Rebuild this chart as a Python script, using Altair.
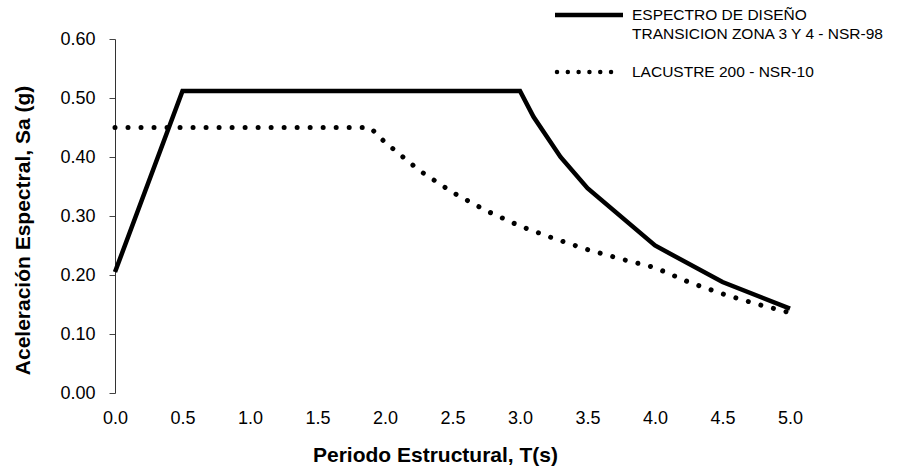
import altair as alt
import pandas as pd

# NSR-98 design spectrum (solid)
t_98 = [0.0, 0.5, 3.0, 3.1, 3.3, 3.5, 4.0, 4.5, 5.0]
sa_98 = [0.205, 0.512, 0.512, 0.468, 0.400, 0.347, 0.250, 0.188, 0.143]

# Lacustre 200 - NSR-10 (dotted)
t_10 = [0.0, 0.5, 1.0, 1.5, 1.89, 2.0, 2.25, 2.5, 2.75, 3.0, 3.25, 3.5, 3.75, 4.0, 4.25, 4.5, 4.75, 5.0]
sa_10 = [0.45, 0.45, 0.45, 0.45, 0.45, 0.425, 0.378, 0.340, 0.309, 0.283, 0.262, 0.243, 0.227, 0.2125, 0.188, 0.168, 0.151, 0.136]

legend_line1 = ["ESPECTRO DE DISEÑO", "TRANSICION ZONA 3 Y 4 - NSR-98"]
legend_line2 = ["LACUSTRE 200 - NSR-10"]

x_ticks = [0.0, 0.5, 1.0, 1.5, 2.0, 2.5, 3.0, 3.5, 4.0, 4.5, 5.0]
y_ticks = [0.0, 0.1, 0.2, 0.3, 0.4, 0.5, 0.6]

FONT = "Liberation Sans"

df98 = pd.DataFrame({"T": t_98, "Sa": sa_98})
df10 = pd.DataFrame({"T": t_10, "Sa": sa_10})

x_enc = alt.X("T:Q", scale=alt.Scale(domain=[0, 5], nice=False),
              axis=alt.Axis(values=x_ticks, format=".1f", title="Periodo Estructural, T(s)",
                            grid=False, domain=False, ticks=False, tickSize=0, labelFlush=False,
                            labelFontSize=18, labelPadding=16, labelColor="black",
                            labelFont=FONT, titleFont=FONT, titleFontSize=21,
                            titleFontWeight="bold", titleColor="black",
                            titleX=320, titleY=62, titleBaseline="middle"))
y_enc = alt.Y("Sa:Q", scale=alt.Scale(domain=[0, 0.6], nice=False),
              axis=alt.Axis(values=y_ticks, format=".2f", title="Aceleración Espectral, Sa (g)",
                            grid=False, domain=True, domainColor="#333", tickColor="#444",
                            labelFlush=False,
                            tickSize=6, labelFontSize=18, labelPadding=14, labelColor="black",
                            labelFont=FONT, titleFont=FONT, titleFontSize=21,
                            titleFontWeight="bold", titleColor="black",
                            titleX=-92, titleY=191, titleBaseline="middle", titleAlign="center"))

solid = alt.Chart(df98).mark_line(color="black", strokeWidth=4.5, strokeJoin="miter").encode(
    x=x_enc, y=y_enc)
dotted = alt.Chart(df10).mark_line(color="black", strokeWidth=5, strokeDash=[0.01, 13],
                                   strokeCap="round").encode(x="T:Q", y="Sa:Q")

one = pd.DataFrame({"k": [0]})
leg_solid = alt.Chart(one).mark_rule(color="black", strokeWidth=4.5).encode(
    x=alt.value(440), x2=alt.value(508), y=alt.value(-24))
leg_dot = alt.Chart(one).mark_rule(color="black", strokeWidth=4.5, strokeDash=[0.01, 10.8],
                                   strokeCap="round").encode(
    x=alt.value(442), x2=alt.value(506), y=alt.value(33))
txt = dict(align="left", baseline="middle", fontSize=15.5, font=FONT, color="black")
leg_t1 = alt.Chart(one).mark_text(**txt).encode(x=alt.value(517), y=alt.value(-24),
                                                text=alt.value(legend_line1[0]))
leg_t2 = alt.Chart(one).mark_text(**txt).encode(x=alt.value(517), y=alt.value(-5),
                                                text=alt.value(legend_line1[1]))
leg_t3 = alt.Chart(one).mark_text(**txt).encode(x=alt.value(517), y=alt.value(33),
                                                text=alt.value(legend_line2[0]))

chart = alt.layer(solid, dotted, leg_solid, leg_dot, leg_t1, leg_t2, leg_t3).properties(
    width=675, height=354,
    autosize=alt.AutoSizeParams(type="none"),
    padding={"left": 115, "top": 39, "right": 107, "bottom": 79},
    background="white",
).configure_view(stroke=None)

chart.save("out.html", embed_options={"renderer": "svg", "actions": False})
